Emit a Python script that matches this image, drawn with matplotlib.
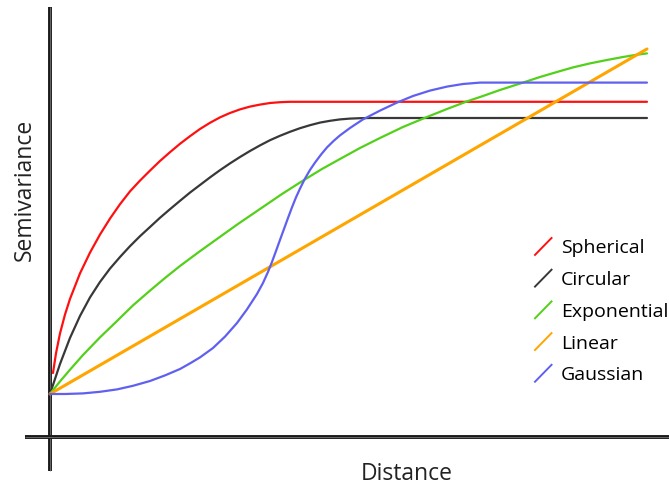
import matplotlib
matplotlib.use("Agg")
import matplotlib.pyplot as plt
from matplotlib.lines import Line2D
from matplotlib.legend_handler import HandlerBase

plt.rcParams['font.family'] = ['Open Sans', 'DejaVu Sans']

# semivariogram models, values (arbitrary units)
sph_d = [0.5, 1.0, 1.67, 2.5, 3.33, 5.0, 6.67, 8.33, 10.0, 11.67, 13.33, 15.0, 16.67, 18.33,
         20.0, 21.67, 23.33, 25.0, 26.67, 28.33, 30.0, 31.67, 33.33, 35.0, 36.67, 38.33, 40.0,
         41.67, 99.5]
sph_g = [16.0, 20.9, 25.9, 30.6, 34.5, 40.9, 46.1, 50.6, 54.6, 58.2, 61.4, 64.1, 66.6, 69.0,
         71.2, 73.3, 75.2, 77.0, 78.55, 79.9, 81.0, 81.9, 82.6, 83.1, 83.5, 83.7, 83.8,
         83.8, 83.8]

cir_d = [0, 1.67, 3.33, 5.0, 6.67, 8.33, 10.0, 11.67, 13.33, 15.0, 16.67, 18.33, 20.0, 21.67,
         23.33, 25.0, 26.67, 28.33, 30.0, 31.67, 33.33, 35.0, 36.67, 38.33, 40.0, 41.67, 43.33,
         45.0, 46.67, 48.33, 50.0, 51.67, 53.33, 99.5]
cir_g = [10.75, 18.25, 24.75, 30.25, 34.9, 38.75, 42.1, 45.0, 47.7, 50.2, 52.5, 54.8, 56.95, 59.05,
         61.1, 63.0, 64.9, 66.7, 68.4, 70.0, 71.5, 72.9, 74.2, 75.3, 76.3, 77.2, 77.95,
         78.6, 79.05, 79.4, 79.6, 79.7, 79.75, 79.75]

exp_d = [0, 1.67, 3.5, 5.5, 8.33, 11.17, 13.83, 16.67, 19.17, 21.67, 24.67, 27.83, 31.33, 35.0,
         38.67, 42.33, 45.33, 48.33, 51.67, 55.0, 58.83, 62.83, 66.17, 69.5, 72.17, 75.0, 78.83,
         81.67, 84.5, 87.17, 90.0, 92.83, 95.5, 97.5, 99.5]
exp_g = [10.75, 13.9, 17.1, 20.5, 24.9, 29.0, 32.9, 36.6, 39.75, 42.75, 46.1, 49.5, 53.25, 57.0,
         60.75, 64.25, 67.0, 69.5, 72.25, 74.75, 77.5, 80.0, 82.0, 83.9, 85.25, 86.75, 88.6,
         90.0, 91.25, 92.4, 93.4, 94.25, 95.0, 95.5, 95.9]

lin_d = [0, 99.5]
lin_g = [10.75, 97.0]

gau_d = [0, 2.5, 5.5, 8.33, 11.17, 13.83, 16.67, 19.17, 21.67, 23.33, 25.0, 27.17, 29.17, 31.17,
         32.83, 34.5, 35.5, 36.33, 37.0, 37.67, 38.33, 39.0, 39.67, 40.33, 41.0, 41.67, 42.5,
         43.33, 44.17, 45.17, 46.17, 47.33, 48.33, 50.0, 52.17, 55.0, 57.83, 60.5, 63.33, 66.17,
         68.83, 71.67, 74.17, 99.5]
gau_g = [10.75, 10.75, 10.9, 11.3, 11.9, 12.8, 14.0, 15.4, 17.0, 18.4, 19.9, 22.25, 25.1, 28.5,
         31.9, 35.75, 38.5, 41.25, 43.75, 46.5, 49.25, 52.0, 54.75, 57.4, 59.9, 62.1, 64.6,
         66.75, 68.6, 70.6, 72.4, 74.1, 75.4, 77.25, 79.4, 81.6, 83.6, 85.25, 86.6, 87.6,
         88.25, 88.6, 88.6, 88.6]

labels = ['Spherical', 'Circular', 'Exponential', 'Linear', 'Gaussian']
colors = ['#ff1010', '#383838', '#52d01a', '#ffa500', '#6060f0']


class DiagHandler(HandlerBase):
    # short slanted stroke instead of the usual horizontal one
    def create_artists(self, legend, orig, xdescent, ydescent, width, height, fontsize, trans):
        ln = Line2D([-xdescent, -xdescent + width], [-ydescent - 1, -ydescent + height],
                    color=orig.get_color(), lw=1.4)
        ln.set_transform(trans)
        return [ln]


fig = plt.figure(figsize=(6.69, 4.85), dpi=100)
ax = fig.add_axes([0, 0, 1, 1])
ax.set_xlim(-8.33, 103.17)
ax.set_ylim(-11.75, 109.5)
ax.axis('off')

# hand drawn looking axes
ax.axvline(0, 0.027, 0.983, color='#1a1a1a', lw=2.8, solid_capstyle='butt')
ax.axvline(0, 0.027, 0.983, color='#888888', lw=0.5, solid_capstyle='butt')
ax.axhline(0, 0.037, 1.0, color='#1a1a1a', lw=2.8, solid_capstyle='butt')
ax.axhline(0, 0.037, 1.0, color='#888888', lw=0.5, solid_capstyle='butt')

style = dict(solid_joinstyle='round', solid_capstyle='round')
h1, = ax.plot(sph_d, sph_g, color=colors[0], lw=1.6, **style)
h2, = ax.plot(cir_d, cir_g, color=colors[1], lw=1.6, **style)
h3, = ax.plot(exp_d, exp_g, color=colors[2], lw=1.6, **style)
h4, = ax.plot(lin_d, lin_g, color=colors[3], lw=2.2, **style)
h5, = ax.plot(gau_d, gau_g, color=colors[4], lw=1.6, **style)

ax.legend([h1, h2, h3, h4, h5], labels, handler_map={Line2D: DiagHandler()},
          loc='upper left', bbox_to_anchor=(535 / 669, 1 - 239 / 485),
          bbox_transform=fig.transFigure, frameon=False, fontsize=14,
          handlelength=0.85, handleheight=0.85, handletextpad=0.5,
          labelspacing=0.68, borderpad=0, borderaxespad=0)

fig.text(407 / 669, 1 - 474 / 485, 'Distance', ha='center', va='center',
         fontsize=16.5, color='#222222')
fig.text(25 / 669, 1 - 190 / 485, 'Semivariance', ha='center', va='center',
         rotation=90, fontsize=16.5, color='#222222')

fig.savefig('out.png', dpi=100)
